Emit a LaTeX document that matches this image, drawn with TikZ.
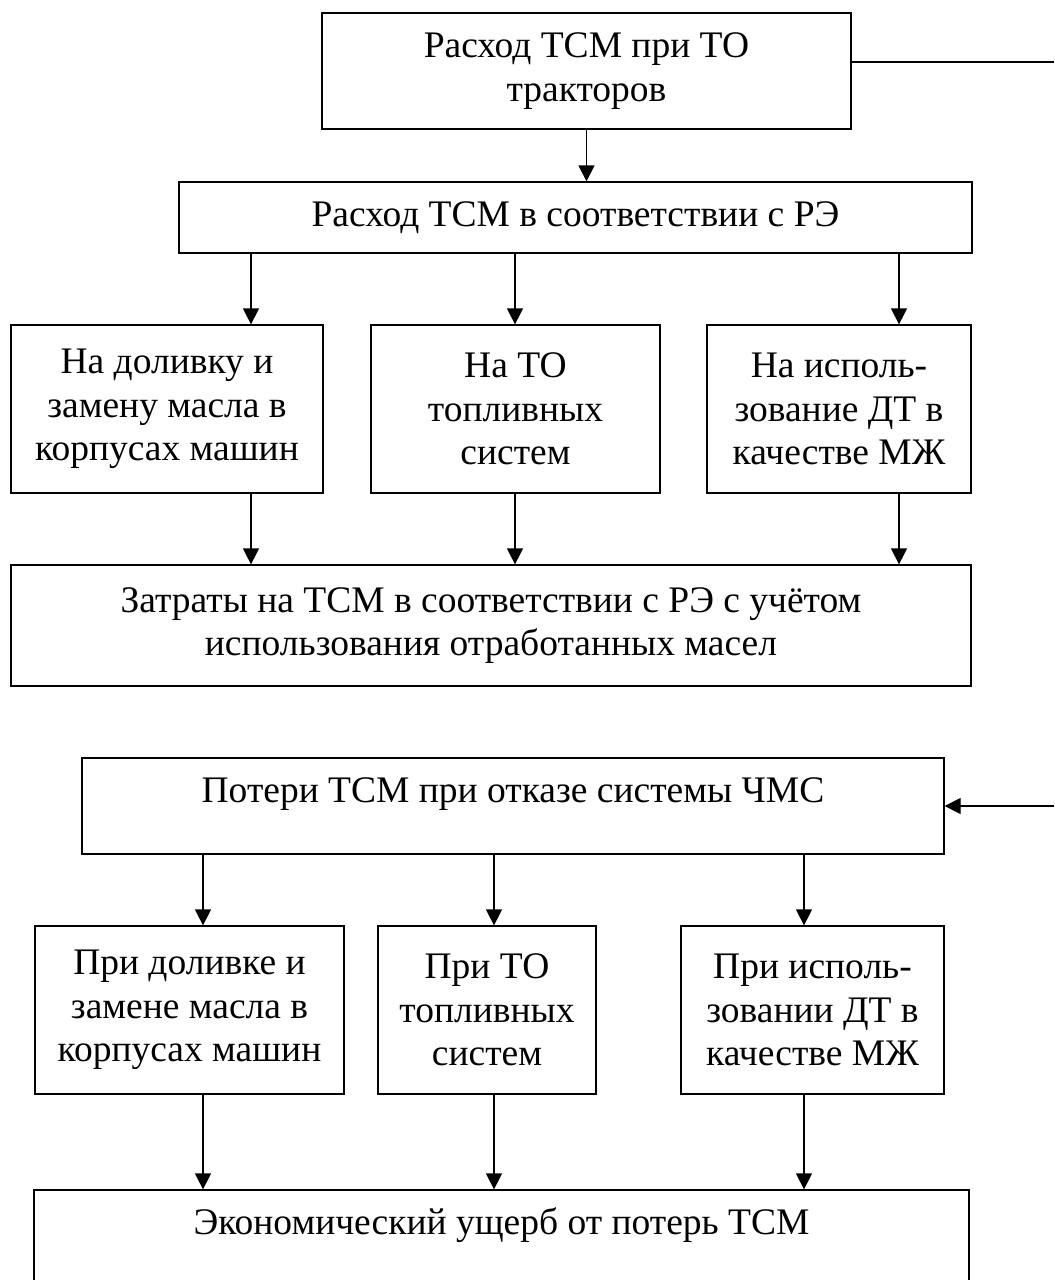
\documentclass[tikz,border=0pt]{standalone}
\usepackage{fontspec}
\setmainfont{Liberation Serif}
\usetikzlibrary{arrows.meta}

\begin{document}
\begin{tikzpicture}[
    x = 0.4pt,
    y = -0.4pt,
    box/.style = {draw, line width=0.5pt, align=center, inner sep=0pt,
      font=\fontsize{15}{17.4}\selectfont},
    arr/.style = {-{Triangle[width=6.4pt, length=6.4pt]}, line width=0.5pt},
    ]
    \useasboundingbox (0,0) rectangle (1054,1280);
    % upper scheme
    \node[box, minimum width=211.6pt, minimum height=46.4pt] (rashTO) at (586.5,71)
    {Расход ТСМ при ТО\\тракторов};
    \node[box, minimum width=317.2pt, minimum height=28.4pt] (rashRE) at (575.5,217.5)
    {Расход ТСМ в соответствии с РЭ};
    \node[box, minimum width=124.8pt, minimum height=67.2pt] (naDol) at (167,409)
    {На доливку и\\замену масла в\\корпусах машин};
    \node[box, minimum width=115.6pt, minimum height=67.2pt] (naTO) at (515.5,409)
    {На ТО\\топливных\\систем};
    \node[box, minimum width=105.6pt, minimum height=67.2pt] (naDT) at (839,409)
    {На исполь-\\зование ДТ в\\качестве МЖ};
    \node[box, minimum width=384pt, minimum height=48.4pt] (zatr) at (491,625.5)
    {Затраты на ТСМ в соответствии с РЭ с учётом\\использования отработанных масел};
    % lower scheme
    \node[box, minimum width=344.8pt, minimum height=38.4pt,
      text height=9.9pt, text depth=12.4pt] (poteri) at (513,806)
    {Потери ТСМ при отказе системы ЧМС};
    \node[box, minimum width=123.6pt, minimum height=67.2pt] (priDol) at (189.5,1010)
    {При доливке и\\замене масла в\\корпусах машин};
    \node[box, minimum width=87.2pt, minimum height=67.2pt] (priTO) at (487,1010)
    {При ТО\\топливных\\систем};
    \node[box, minimum width=105.2pt, minimum height=67.2pt] (priDT) at (812.5,1010)
    {При исполь-\\зовании ДТ в\\качестве МЖ};
    \node[box, minimum width=374pt, minimum height=48.4pt,
      text height=9.9pt, text depth=22.4pt] (ushcherb) at (501.5,1250.5)
    {Экономический ущерб от потерь ТСМ};
    % arrow columns
    \coordinate (ka) at (251,0);
    \coordinate (kb) at (515,0);
    \coordinate (kc) at (899,0);
    \coordinate (la) at (203,0);
    \coordinate (lb) at (494,0);
    \coordinate (lc) at (804,0);
    % outer links
    \coordinate (outTop) at (1054,62);
    \coordinate (outBot) at (1054,806);
    \draw[line width=0.5pt] (rashTO.east |- outTop) -- (outTop);
    \draw[arr] (outBot) -- (poteri.east);
    % arrows
    \draw[arr] (rashTO.south) -- (rashTO.south |- rashRE.north);
    \draw[arr] (rashRE.south -| ka) -- (naDol.north -| ka);
    \draw[arr] (rashRE.south -| kb) -- (naTO.north -| kb);
    \draw[arr] (rashRE.south -| kc) -- (naDT.north -| kc);
    \draw[arr] (naDol.south -| ka) -- (zatr.north -| ka);
    \draw[arr] (naTO.south -| kb) -- (zatr.north -| kb);
    \draw[arr] (naDT.south -| kc) -- (zatr.north -| kc);
    \draw[arr] (poteri.south -| la) -- (priDol.north -| la);
    \draw[arr] (poteri.south -| lb) -- (priTO.north -| lb);
    \draw[arr] (poteri.south -| lc) -- (priDT.north -| lc);
    \draw[arr] (priDol.south -| la) -- (ushcherb.north -| la);
    \draw[arr] (priTO.south -| lb) -- (ushcherb.north -| lb);
    \draw[arr] (priDT.south -| lc) -- (ushcherb.north -| lc);
  \end{tikzpicture}
\end{document}
